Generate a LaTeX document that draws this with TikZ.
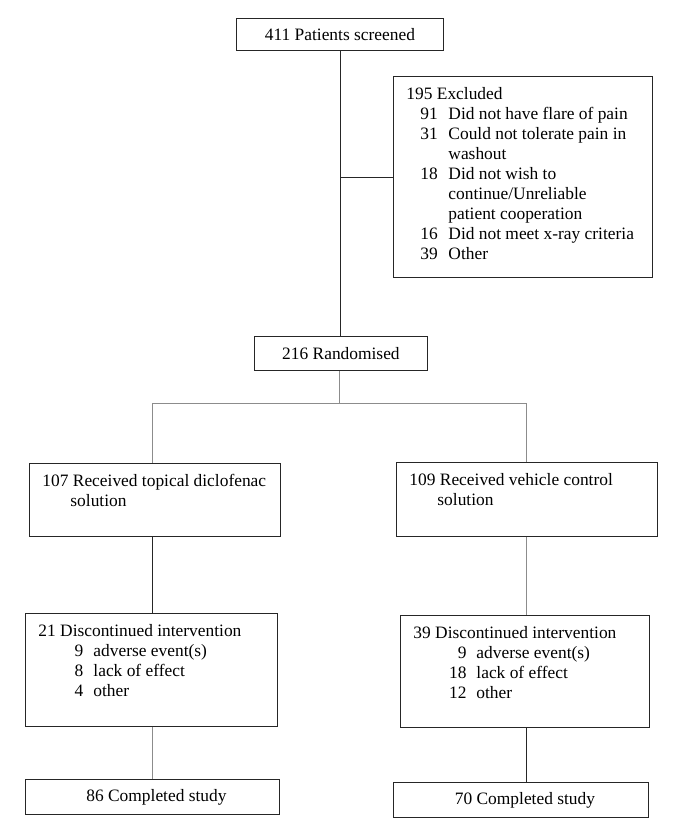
\documentclass[tikz,border=0pt]{standalone}
\usepackage{fontspec}
\setmainfont{Liberation Serif}
\usepackage{tikz}

\newcommand{\boxtext}[3]{\parbox[c][#2][t]{#1}{\vspace*{9pt}#3}}
\newcommand{\headline}[1]{\hspace*{13pt}\strut #1\par}
\newcommand{\moreline}[2]{\hspace*{#1}\strut #2\par}
\newcommand{\exline}[2]{\hspace*{27pt}\makebox[28pt][l]{#1}\strut #2\par}
\newcommand{\numline}[3]{\hspace*{13pt}\makebox[#1][r]{#2}\hspace*{10pt}\strut #3\par}

\begin{document}
\begin{tikzpicture}[x=1pt, y=-1pt,
        font=\fontsize{17.4}{20}\selectfont,
        box/.style={draw=black!85, line width=0.9pt, inner sep=0pt, anchor=north west},
        link/.style={draw=black!85, line width=0.9pt},
        greylink/.style={draw=black!45, line width=1pt}]
        \useasboundingbox (0, 0) rectangle (685, 828);

        \node[box, minimum width=207pt, minimum height=32pt] (scr) at (236, 18) {411 Patients screened};
        \node[box] (exc) at (393, 76) {\boxtext{259pt}{201pt}{%
            \headline{195 Excluded}
            \exline{91}{Did not have flare of pain}
            \exline{31}{Could not tolerate pain in}
            \exline{}{washout}
            \exline{18}{Did not wish to}
            \exline{}{continue/Unreliable}
            \exline{}{patient cooperation}
            \exline{16}{Did not meet x-ray criteria}
            \exline{39}{Other}}};
        \node[box, minimum width=173pt, minimum height=34pt] (rand) at (254, 336) {216 Randomised};

        \node[box] (rec1) at (29, 463) {\boxtext{251pt}{73pt}{%
            \headline{107 Received topical diclofenac}
            \moreline{41pt}{solution}}};
        \node[box] (rec2) at (396, 462) {\boxtext{261pt}{74pt}{%
            \headline{109 Received vehicle control}
            \moreline{41pt}{solution}}};

        \node[box] (dis1) at (25, 613) {\boxtext{252pt}{113pt}{%
            \headline{21 Discontinued intervention}
            \numline{45pt}{9}{adverse event(s)}
            \numline{45pt}{8}{lack of effect}
            \numline{45pt}{4}{other}}};
        \node[box] (dis2) at (400, 615) {\boxtext{249pt}{112pt}{%
            \headline{39 Discontinued intervention}
            \numline{53pt}{9}{adverse event(s)}
            \numline{53pt}{18}{lack of effect}
            \numline{53pt}{12}{other}}};

        \node[box, minimum width=254pt, minimum height=35pt] (comp1) at (25, 779) {\hspace*{8pt}86 Completed study};
        \node[box, minimum width=255pt, minimum height=35pt] (comp2) at (393, 782) {\hspace*{8pt}70 Completed study};

        \coordinate (lcol) at (152, 403);
        \coordinate (rcol) at (526, 403);

        \draw[link] (scr.south) to (scr.south |- rand.north)
            (exc.west) to (exc.west -| scr.south)
            (lcol |- rec1.south) to (lcol |- dis1.north)
            (rcol |- dis2.south) to (rcol |- comp2.north);

        \draw[greylink] (scr.south |- rand.south) to (scr.south |- lcol)
            (lcol) to (rcol)
            (lcol) to (lcol |- rec1.north)
            (rcol) to (rcol |- rec2.north)
            (rcol |- rec2.south) to (rcol |- dis2.north)
            (lcol |- dis1.south) to (lcol |- comp1.north);
    \end{tikzpicture}
\end{document}
